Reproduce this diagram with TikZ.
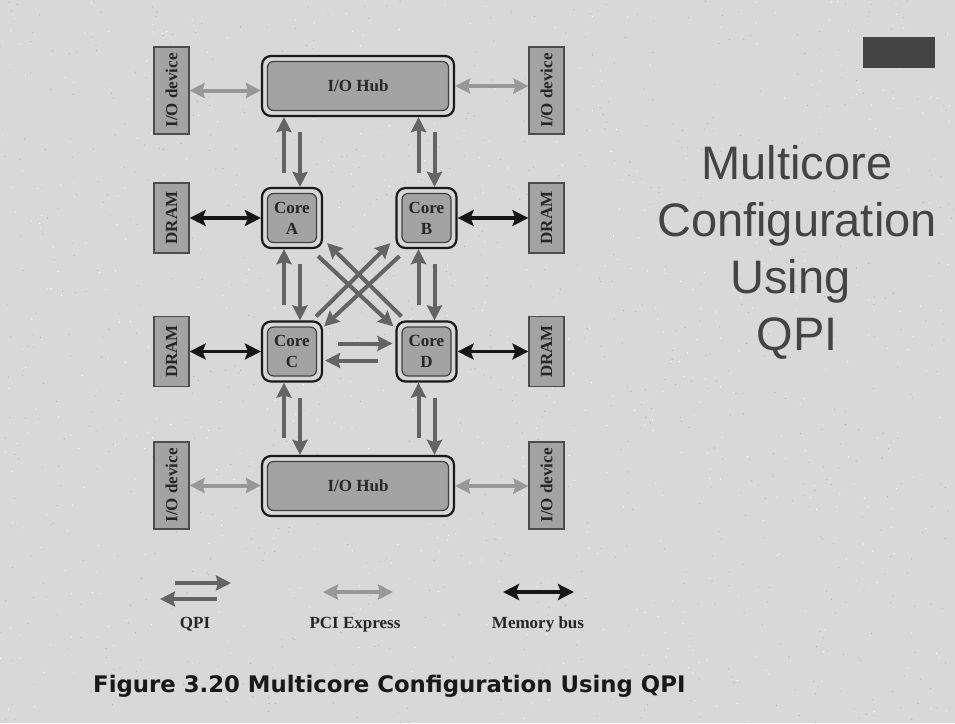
\documentclass[tikz,border=0pt]{standalone}
\usepackage{fontspec}
\setmainfont{Liberation Serif}
\newfontfamily\titlefont{Liberation Sans}
\newfontfamily\capfont{DejaVu Sans}
\usetikzlibrary{arrows.meta,calc}
\definecolor{bgc}{RGB}{216,216,216}
\definecolor{speck}{RGB}{175,175,175}
\definecolor{boxfill}{RGB}{163,163,163}
\definecolor{ringfill}{RGB}{214,214,214}
\definecolor{qpic}{RGB}{100,100,100}
\definecolor{pcic}{RGB}{152,152,152}
\definecolor{memc}{RGB}{22,22,22}
\definecolor{titlec}{RGB}{68,68,68}
\definecolor{capc}{RGB}{25,25,25}
\begin{document}
\begin{tikzpicture}[x=1pt,y=-1pt,
  lbl/.style={font=\fontsize{17}{21}\selectfont\bfseries, text=black!85},
  dev/.style={lbl, draw=black!70, line width=1.2pt, fill=boxfill, rotate=90, minimum height=35pt, inner sep=0pt},
  iodev/.style={dev, minimum width=87pt},
  dramb/.style={dev, minimum width=70pt},
  ring/.style={draw=black!90, line width=2.2pt, fill=ringfill, rounded corners=9pt, inner sep=0pt},
  innerbox/.style={lbl, draw=black!75, line width=1.2pt, fill=boxfill, rounded corners=6pt, inner sep=0pt, align=center},
  qtip/.tip={Stealth[length=15pt,width=15pt,inset=2pt]},
  mtip/.tip={Stealth[length=16pt,width=16pt,inset=3pt]},
  qpi/.style={draw=qpic, line width=4pt, -qtip},
  pci/.style={draw=pcic, line width=4pt, qtip-qtip},
  mem/.style={draw=memc, line width=3.2pt, mtip-mtip},
  legtext/.style={lbl, anchor=base, inner sep=0pt},
]
% background
\fill[bgc] (0,0) rectangle (955,723);
\useasboundingbox (0,0) rectangle (955,723);
\pgfmathsetseed{11}
\foreach \i in {1,...,900}{
  \pgfmathsetmacro\rx{rnd*955}
  \pgfmathsetmacro\ry{rnd*723}
  \fill[speck] (\rx,\ry) circle (0.55pt);
}
\foreach \i in {1,...,600}{
  \pgfmathsetmacro\rx{rnd*955}
  \pgfmathsetmacro\ry{rnd*723}
  \fill[white!92!bgc] (\rx,\ry) circle (0.6pt);
}

% decoration rectangle
\node[fill=titlec, minimum width=72pt, minimum height=31pt, inner sep=0pt] (deco) at (899,52.5) {};

% title
\node[font=\titlefont\fontsize{47}{57}\selectfont, text=titlec, align=center, inner sep=0pt] (title) at (797,252)
  {Multicore\\Configuration\\Using\kern13pt\\QPI};

% caption
\node[font=\capfont\bfseries\fontsize{22.8}{27}\selectfont, text=capc, anchor=base west, inner sep=0pt] (caption) at (93,692)
  {Figure 3.20 Multicore Configuration Using QPI};

% hubs
\node[ring, minimum width=192pt, minimum height=60pt] (hubT) at (358,86) {};
\node[innerbox, minimum width=181pt, minimum height=49pt] (hubTi) at (358,86) {I/O Hub};
\node[ring, minimum width=192pt, minimum height=60pt] (hubB) at (358,486) {};
\node[innerbox, minimum width=181pt, minimum height=49pt] (hubBi) at (358,486) {I/O Hub};

% cores
\node[ring, minimum width=60pt, minimum height=60pt] (coreA) at (292,218) {};
\node[innerbox, minimum width=49pt, minimum height=49pt] (coreAi) at (292,218) {Core\\A};
\node[ring, minimum width=60pt, minimum height=60pt] (coreB) at (426.5,218) {};
\node[innerbox, minimum width=49pt, minimum height=49pt] (coreBi) at (426.5,218) {Core\\B};
\node[ring, minimum width=60pt, minimum height=60pt] (coreC) at (292,351.5) {};
\node[innerbox, minimum width=49pt, minimum height=49pt] (coreCi) at (292,351.5) {Core\\C};
\node[ring, minimum width=60pt, minimum height=60pt] (coreD) at (426.5,351.5) {};
\node[innerbox, minimum width=49pt, minimum height=49pt] (coreDi) at (426.5,351.5) {Core\\D};

% I/O devices
\node[iodev] (ioTL) at (171.5,90.5) {I/O device};
\node[iodev] (ioTR) at (546.5,90.5) {I/O device};
\node[iodev] (ioBL) at (171.5,485.5) {I/O device};
\node[iodev] (ioBR) at (546.5,485.5) {I/O device};

% DRAMs
\node[dramb] (dramA) at (171.5,218) {DRAM};
\node[dramb] (dramB) at (546.5,218) {DRAM};
\node[dramb] (dramC) at (171.5,351.5) {DRAM};
\node[dramb] (dramD) at (546.5,351.5) {DRAM};

% PCI Express links
\draw[pci] (ioTL.south) -- (ioTL.south -| hubT.west);
\draw[pci] (hubT.east) -- (hubT.east -| ioTR.north);
\draw[pci] (ioBL.south) -- (ioBL.south -| hubB.west);
\draw[pci] (hubB.east) -- (hubB.east -| ioBR.north);

% memory buses
\draw[mem] (dramA.south) -- (coreA.west);
\draw[mem] (coreB.east) -- (dramB.north);
\draw[mem] (dramC.south) -- (coreC.west);
\draw[mem] (coreD.east) -- (dramD.north);

% QPI: top hub <-> A, B
\draw[qpi, shorten <=14pt] ([xshift=-8pt]coreA.north) -- ([xshift=-8pt]hubT.south -| coreA.north);
\draw[qpi, shorten <=15pt] ([xshift=8pt]hubT.south -| coreA.north) -- ([xshift=8pt]coreA.north);
\draw[qpi, shorten <=14pt] ([xshift=-8pt]coreB.north) -- ([xshift=-8pt]hubT.south -| coreB.north);
\draw[qpi, shorten <=15pt] ([xshift=8pt]hubT.south -| coreB.north) -- ([xshift=8pt]coreB.north);

% QPI: A <-> C, B <-> D
\draw[qpi, shorten <=15pt] ([xshift=-8pt]coreC.north) -- ([xshift=-8pt]coreA.south);
\draw[qpi, shorten <=15pt] ([xshift=8pt]coreA.south) -- ([xshift=8pt]coreC.north);
\draw[qpi, shorten <=15pt] ([xshift=-8pt]coreD.north) -- ([xshift=-8pt]coreB.south);
\draw[qpi, shorten <=15pt] ([xshift=8pt]coreB.south) -- ([xshift=8pt]coreD.north);

% QPI: bottom hub <-> C, D
\draw[qpi, shorten <=17pt] ([xshift=-8pt]hubB.north -| coreC.south) -- ([xshift=-8pt]coreC.south);
\draw[qpi, shorten <=15pt] ([xshift=8pt]coreC.south) -- ([xshift=8pt]hubB.north -| coreC.south);
\draw[qpi, shorten <=17pt] ([xshift=-8pt]hubB.north -| coreD.south) -- ([xshift=-8pt]coreD.south);
\draw[qpi, shorten <=15pt] ([xshift=8pt]coreD.south) -- ([xshift=8pt]hubB.north -| coreD.south);

% QPI: diagonals
\draw[qpi] ([shift={(-5,7)}]coreA.south east) -- ([shift={(-2,6)}]coreD.north west);
\draw[qpi] ([shift={(6,-4)}]coreD.north west) -- ([shift={(4,-6)}]coreA.south east);
\draw[qpi] ([shift={(4,7)}]coreB.south west) -- ([shift={(1,6)}]coreC.north east);
\draw[qpi] ([shift={(-7,-4)}]coreC.north east) -- ([shift={(-5,-6)}]coreB.south west);

% QPI: C <-> D
\draw[qpi] ([shift={(15,-8)}]coreC.east) -- ([shift={(-3,-8)}]coreD.west);
\draw[qpi] ([shift={(-17,9)}]coreD.west) -- ([shift={(2,9)}]coreC.east);

% legend
\coordinate (q1s) at (175,583);
\coordinate (q1e) at (231,583);
\coordinate (q2s) at (217,599);
\coordinate (q2e) at (160,599);
\coordinate (p1) at (323,592);
\coordinate (p2) at (393,592);
\coordinate (m1) at (503,592);
\coordinate (m2) at (574,592);
\draw[qpi] (q1s) -- (q1e);
\draw[qpi] (q2s) -- (q2e);
\draw[pci] (p1) -- (p2);
\draw[mem] (m1) -- (m2);
\node[legtext] (lq) at (195,628) {QPI};
\node[legtext] (lp) at (355,628) {PCI Express};
\node[legtext] (lm) at (538,628) {Memory bus};
\end{tikzpicture}
\end{document}
